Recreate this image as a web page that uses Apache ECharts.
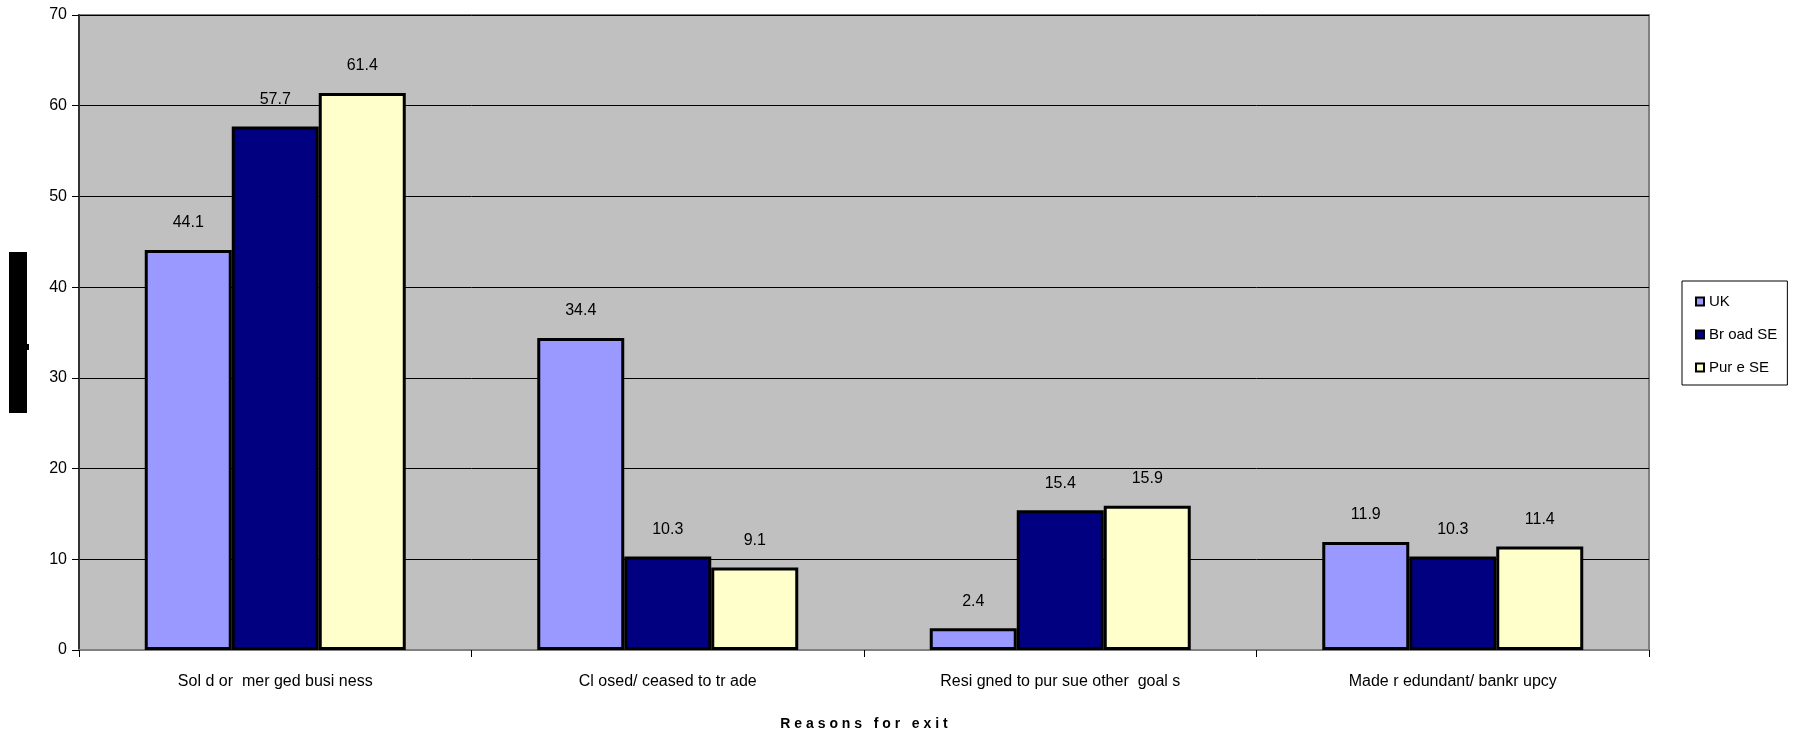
<!DOCTYPE html>
<html>
<head>
<meta charset="utf-8">
<script src="https://cdn.jsdelivr.net/npm/echarts@6/dist/echarts.min.js"></script>
<style>
  html, body { margin: 0; padding: 0; background: #ffffff; overflow: hidden; }
  #chart { width: 1798px; height: 736px; }
</style>
</head>
<body>
<div id="chart"></div>
<script>
// Reasons for exit, percentage of respondents by group
const categories = ['Sol d or  mer ged busi ness', 'Cl osed/ ceased to tr ade', 'Resi gned to pur sue other  goal s', 'Made r edundant/ bankr upcy'];
const seriesNames = ['UK', 'Br oad SE', 'Pur e SE'];
const ukValues = [44.1, 34.4, 2.4, 11.9];
const broadSeValues = [57.7, 10.3, 15.4, 10.3];
const pureSeValues = [61.4, 9.1, 15.9, 11.4];
const yTicks = [0, 10, 20, 30, 40, 50, 60, 70];
const xAxisTitle = 'R e a s o n s   f o r   e x i t';

const colors = ['#9999FF', '#000080', '#FFFFCC'];
const FONT = '"Liberation Sans", Arial, sans-serif';

function barSeries(name, data, color) {
  return {
    name: name,
    type: 'bar',
    data: data,
    barWidth: 87,
    barGap: '0%',
    itemStyle: { color: color, borderColor: '#000000', borderWidth: 3 },
    label: {
      show: true,
      position: 'top',
      distance: 19,
      fontFamily: FONT,
      fontSize: 16,
      color: '#000000',
      formatter: p => p.value.toFixed(1)
    }
  };
}

const chart = echarts.init(document.getElementById('chart'), null, { renderer: 'canvas' });
chart.setOption({
  animation: false,
  backgroundColor: '#ffffff',
  grid: {
    left: 79, right: 149, top: 15, bottom: 86,
    outerBoundsMode: 'none',
    containLabel: false,
    show: true,
    backgroundColor: '#C0C0C0',
    borderColor: '#808080',
    borderWidth: 2
  },
  legend: {
    orient: 'vertical',
    left: 1682,
    top: 281,
    data: seriesNames,
    icon: 'rect',
    itemWidth: 8,
    itemHeight: 8,
    itemGap: 18,
    padding: [13, 10, 10, 13],
    backgroundColor: '#ffffff',
    borderColor: '#000000',
    borderWidth: 1,
    itemStyle: { borderColor: '#000000', borderWidth: 2 },
    textStyle: { fontFamily: FONT, fontSize: 15, color: '#000000' }
  },
  xAxis: {
    type: 'category',
    data: categories,
    name: xAxisTitle,
    nameLocation: 'middle',
    nameGap: 67,
    nameTextStyle: { fontFamily: FONT, fontSize: 14, fontWeight: 'bold', color: '#000000' },
    axisLine: { lineStyle: { color: '#808080', width: 2 } },
    axisTick: { show: true, length: 7, lineStyle: { color: '#000000', width: 1 } },
    axisLabel: { fontFamily: FONT, fontSize: 16, color: '#000000', margin: 24 },
    splitLine: { show: false }
  },
  yAxis: {
    type: 'value',
    min: yTicks[0],
    max: yTicks[yTicks.length - 1],
    interval: 10,
    axisLine: { show: true, lineStyle: { color: '#333333', width: 2 } },
    axisTick: { show: true, length: 7, lineStyle: { color: '#000000', width: 1 } },
    axisLabel: { fontFamily: FONT, fontSize: 16, color: '#000000', margin: 12 },
    splitLine: { show: true, lineStyle: { color: '#000000', width: 1 } }
  },
  graphic: [
    { type: 'rect', left: 9, top: 252, shape: { width: 18, height: 161 }, style: { fill: '#000000' } },
    { type: 'rect', left: 27, top: 344, shape: { width: 2, height: 6 }, style: { fill: '#000000' } }
  ],
  series: [
    barSeries(seriesNames[0], ukValues, colors[0]),
    barSeries(seriesNames[1], broadSeValues, colors[1]),
    barSeries(seriesNames[2], pureSeValues, colors[2])
  ]
});
</script>
</body>
</html>
